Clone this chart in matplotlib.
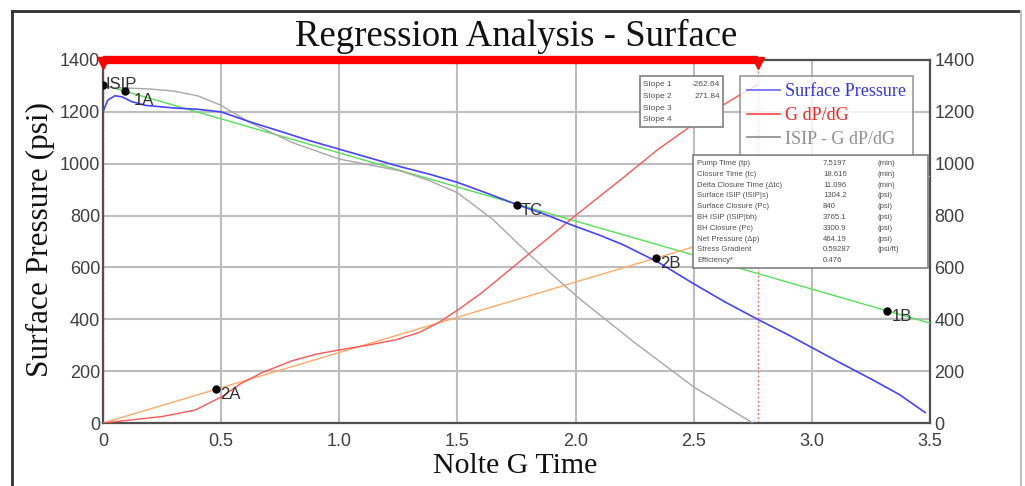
import matplotlib
matplotlib.use("Agg")
import matplotlib.pyplot as plt
from matplotlib.patches import Rectangle
from matplotlib.lines import Line2D

# Surface pressure vs Nolte G time
g_surface = [0, 0.02, 0.05, 0.08, 0.12, 0.18, 0.3, 0.4, 0.5, 0.62, 0.75, 0.87, 1.0, 1.13,
             1.26, 1.38, 1.5, 1.62, 1.75, 1.87, 1.98, 2.1, 2.2, 2.35, 2.5, 2.63, 2.77,
             2.9, 3.0, 3.12, 3.25, 3.37, 3.48]
p_surface = [1200, 1245, 1262, 1258, 1240, 1225, 1215, 1210, 1200, 1162, 1125, 1090, 1056,
             1022, 988, 960, 928, 888, 843, 805, 765, 725, 688, 620, 537, 468, 400,
             340, 291, 232, 170, 110, 40]

# G dP/dG
g_deriv = [0, 0.1, 0.25, 0.39, 0.5, 0.58, 0.67, 0.8, 0.9, 1.0, 1.12, 1.24, 1.34, 1.42,
           1.5, 1.6, 1.7, 1.8, 1.99, 2.2, 2.35, 2.55, 2.70, 2.77]
gdpdg = [0, 10, 25, 50, 100, 150, 193, 240, 265, 282, 300, 321, 350, 387,
         435, 500, 575, 650, 793, 945, 1056, 1185, 1268, 1305]

# ISIP - G dP/dG
g_isip = [0, 0.1, 0.2, 0.3, 0.4, 0.5, 0.62, 0.8, 1.0, 1.13, 1.26, 1.38, 1.5, 1.65, 1.81,
          2.02, 2.25, 2.5, 2.75]
isip_minus = [1295, 1292, 1288, 1280, 1262, 1225, 1160, 1082, 1018, 995, 972, 935, 888,
              785, 645, 477, 310, 139, 0]

# Regression results
isip_surface = 1304.2
slope_1 = -262.64
slope_2 = 271.84
g_closure_marker = 2.77

# Picked points
point_names = ["ISIP", "1A", "TC", "2A", "2B", "1B"]
point_g = [0, 0.093, 1.75, 0.48, 2.34, 3.32]
point_p = [1304.2, 1280, 840, 130, 636, 432]

slope_labels = ["Slope 1", "Slope 2", "Slope 3", "Slope 4"]
slope_values = ["-262.64", "271.84", "", ""]

info_labels = ["Pump Time (tp)", "Closure Time (tc)", "Delta Closure Time (\u0394tc)",
               "Surface ISIP (ISIP|s)", "Surface Closure (Pc)", "BH ISIP (ISIP|bh)",
               "BH Closure (Pc)", "Net Pressure (\u0394p)", "Stress Gradient", "Efficiency*"]
info_values = ["7.5197", "18.616", "11.096", "1304.2", "840", "3765.1",
               "3300.9", "464.19", "0.59287", "0.476"]
info_units = ["(min)", "(min)", "(min)", "(psi)", "(psi)", "(psi)",
              "(psi)", "(psi)", "(psi/ft)", ""]

x_ticks = [0, 0.5, 1.0, 1.5, 2.0, 2.5, 3.0, 3.5]
x_tick_labels = ["0", "0.5", "1.0", "1.5", "2.0", "2.5", "3.0", "3.5"]
y_ticks = [0, 200, 400, 600, 800, 1000, 1200, 1400]

W, H = 1025, 486
fig = plt.figure(figsize=(W / 100, H / 100), dpi=100)
fig.patch.set_facecolor("white")


def fx(px):
    return px / W


def fy(py):
    return 1 - py / H


ax = fig.add_axes([fx(103), fy(423), fx(930) - fx(103), fy(60) - fy(423)])
ax.set_xlim(0, 3.5)
ax.set_ylim(0, 1400)

ax.grid(True, color="#bdbdbd", linewidth=1.5, zorder=0)
ax.set_axisbelow(True)
for s in ax.spines.values():
    s.set_color("#505050")
    s.set_linewidth(1.6)

serif = ["Liberation Serif", "DejaVu Serif"]
sans = ["Liberation Sans", "DejaVu Sans"]

ax.set_xticks(x_ticks)
ax.set_xticklabels(x_tick_labels)
ax.set_yticks(y_ticks)
ax.tick_params(axis="x", length=0, labelsize=13, colors="#404040", pad=7)
ax.tick_params(axis="y", length=0, labelsize=13, colors="#404040", pad=2)
for lab in ax.get_xticklabels():
    lab.set_fontfamily(sans)
for lab in ax.get_yticklabels():
    lab.set_fontfamily(sans)
    lab.set_va("center_baseline")

ax2 = ax.twinx()
ax2.set_ylim(0, 1400)
ax2.set_yticks(y_ticks)
ax2.tick_params(length=0, labelsize=13, colors="#404040", pad=3)
for lab in ax2.get_yticklabels():
    lab.set_fontfamily(sans)
    lab.set_va("center_baseline")
for s in ax2.spines.values():
    s.set_visible(False)

# Regression lines
fit_g = [0, 3.5]
line1 = [isip_surface + slope_1 * g for g in fit_g]
line2 = [slope_2 * g for g in fit_g]
ax.plot(fit_g, line1, color="#55e055", lw=1.0, zorder=3)
ax.plot(fit_g, line2, color="#ffaa66", lw=1.0, zorder=3)

# Data curves
ax.plot(g_isip, isip_minus, color="#a8a8a8", lw=1.0, zorder=3)
ax.plot(g_deriv, gdpdg, color="#ff5555", lw=1.0, zorder=3)
ax.plot(g_surface, p_surface, color="#4444ff", lw=1.2, zorder=4)

# Closure marker bar and guide lines
ax.axvline(g_closure_marker, color="#ff7070", lw=1.0, ls=(0, (1.5, 1.5)), zorder=2)
ax.axvline(0, color="#ff7070", lw=1.0, ls=(0, (1.5, 1.5)), zorder=2)
ax.plot([0, g_closure_marker], [1400, 1400], color="#ff0000", lw=6,
        solid_capstyle="butt", clip_on=False, zorder=6)
ax.plot([0, g_closure_marker], [1390, 1390], ls="none", marker="v", ms=9,
        color="#ff0000", clip_on=False, zorder=6)

# Picked points; the two labels near the origin are nudged apart
label_offsets = {"ISIP": (2, -3), "1A": (6, -10)}
for name, g, p in zip(point_names, point_g, point_p):
    ax.plot(g, p, "o", color="black", ms=5, zorder=7)
    ax.annotate(name, (g, p), xytext=label_offsets.get(name, (3, -7)),
                textcoords="offset points", fontsize=12, color="#303030",
                family=sans, zorder=7)

# Slope summary box
fig.patches.append(Rectangle((fx(640), fy(127)), fx(723) - fx(640), fy(76) - fy(127),
                             transform=fig.transFigure, facecolor="white",
                             edgecolor="#808080", lw=1.2, zorder=10))
for i, (lab, val) in enumerate(zip(slope_labels, slope_values)):
    y = fy(85 + i * 11.5)
    fig.text(fx(643), y, lab, fontsize=6, family=sans, color="#505050", va="center", zorder=11)
    fig.text(fx(720), y, val, fontsize=6, family=sans, color="#505050", va="center",
             ha="right", zorder=11)

# Legend
handles = [Line2D([], [], color="#6666ff", lw=1.2),
           Line2D([], [], color="#ff4444", lw=1.2),
           Line2D([], [], color="#888888", lw=1.2)]
leg = fig.legend(handles, ["Surface Pressure", "G dP/dG", "ISIP - G dP/dG"],
                 loc="upper left", bbox_to_anchor=(fx(740), fy(76)),
                 frameon=True, fancybox=False, edgecolor="#808080",
                 prop={"family": serif, "size": 13}, handlelength=1.8,
                 handletextpad=0.3, borderpad=0.4, labelspacing=0.37,
                 borderaxespad=0)
leg.get_frame().set_linewidth(1.2)
for t, c in zip(leg.get_texts(), ["#3333ee", "#ff2222", "#909090"]):
    t.set_color(c)
leg.set_zorder(10)

# Results box
fig.patches.append(Rectangle((fx(693), fy(268)), fx(928) - fx(693), fy(155) - fy(268),
                             transform=fig.transFigure, facecolor="white",
                             edgecolor="#808080", lw=1.2, zorder=10))
for i, (lab, val, unit) in enumerate(zip(info_labels, info_values, info_units)):
    y = fy(163.5 + i * 10.8)
    fig.text(fx(697), y, lab, fontsize=5.6, family=sans, color="#505050", va="center", zorder=11)
    fig.text(fx(823), y, val, fontsize=5.6, family=sans, color="#505050", va="center", zorder=11)
    fig.text(fx(878), y, unit, fontsize=5.6, family=sans, color="#505050", va="center", zorder=11)

# Titles
fig.text(fx(516), fy(36), "Regression Analysis - Surface", ha="center", va="center",
         fontsize=26.5, family=serif, color="#111111")
fig.text(fx(515), fy(466), "Nolte G Time", ha="center", va="center",
         fontsize=21.5, family=serif, color="#111111")
fig.text(fx(40), fy(239), "Surface Pressure (psi)", ha="center", va="center",
         rotation=90, fontsize=22.5, family=serif, color="#111111")

# Outer frame
fig.add_artist(Line2D([fx(12), fx(1020)], [fy(11), fy(11)], color="#303030", lw=2,
                      transform=fig.transFigure))
fig.add_artist(Line2D([fx(12), fx(12)], [fy(11), 0], color="#303030", lw=2,
                      transform=fig.transFigure))
fig.add_artist(Line2D([fx(1021), fx(1021)], [fy(11), 0], color="#c0c0c0", lw=1.5,
                      transform=fig.transFigure))

fig.savefig("out.png", dpi=100)
